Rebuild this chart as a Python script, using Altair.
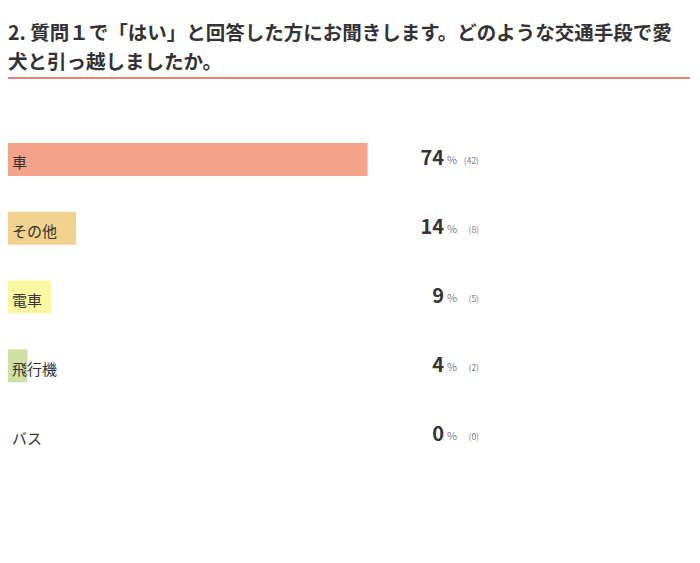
import altair as alt
import pandas as pd

categories = ["車", "その他", "電車", "飛行機", "バス"]
percents = [74, 14, 9, 4, 0]
counts = [42, 8, 5, 2, 0]
colors = ["#F5A28A", "#F1D28E", "#FCF7A2", "#D0E0A4", "#CCCCCC"]

title_lines = [
    "2. 質問１で「はい」と回答した方にお聞きします。どのような交通手段で愛",
    "犬と引っ越しましたか。",
]

FONT = "Noto Sans CJK JP"

df = pd.DataFrame({
    "cat": categories,
    "pct": percents,
    "pct_label": [str(p) for p in percents],
    "cnt_label": [f"({c})" for c in counts],
    "sym": ["%"] * len(categories),
})

y_enc = alt.Y("cat:N", sort=None, axis=None,
              scale=alt.Scale(domain=categories, paddingInner=0.52, paddingOuter=0.26))

base = alt.Chart(df)

bars = base.mark_bar().encode(
    x=alt.X("pct:Q", axis=None, scale=alt.Scale(domain=[0, 100], range=[0, 486])),
    y=y_enc,
    color=alt.Color("cat:N", scale=alt.Scale(domain=categories, range=colors), legend=None),
)

cat_text = base.mark_text(align="left", baseline="middle", dy=4, font=FONT,
                          fontSize=15, color="#333333").encode(
    x=alt.value(4), y=y_enc, text="cat:N")

num_text = base.mark_text(align="right", baseline="alphabetic", dy=6, font=FONT,
                          fontSize=20, fontWeight="bold", color="#333333").encode(
    x=alt.value(436), y=y_enc, text="pct_label:N")

pct_text = base.mark_text(align="left", baseline="alphabetic", dy=5, font=FONT,
                          fontSize=11, color="#808080").encode(
    x=alt.value(439), y=y_enc, text="sym:N")

cnt_text = base.mark_text(align="right", baseline="alphabetic", dy=5, font=FONT,
                          fontSize=8.5, color="#808080").encode(
    x=alt.value(471), y=y_enc, text="cnt_label:N")

rule = base.mark_rule(color="#E57A72", strokeWidth=1).encode(
    x=alt.value(0), x2=alt.value(682), y=alt.value(-47))

chart = alt.layer(bars, cat_text, num_text, pct_text, cnt_text, rule).properties(
    width=684,
    height=344,
    title=alt.TitleParams(text=title_lines, anchor="start", frame="group", font=FONT,
                          fontSize=19.5, fontWeight="bold", color="#333333",
                          lineHeight=29, offset=4),
    padding={"left": 0, "top": 117, "right": 0, "bottom": 0},
    autosize=alt.AutoSizeParams(type="none"),
).configure_view(stroke=None)

chart.save("out.html", embed_options={"renderer": "svg", "actions": False})
